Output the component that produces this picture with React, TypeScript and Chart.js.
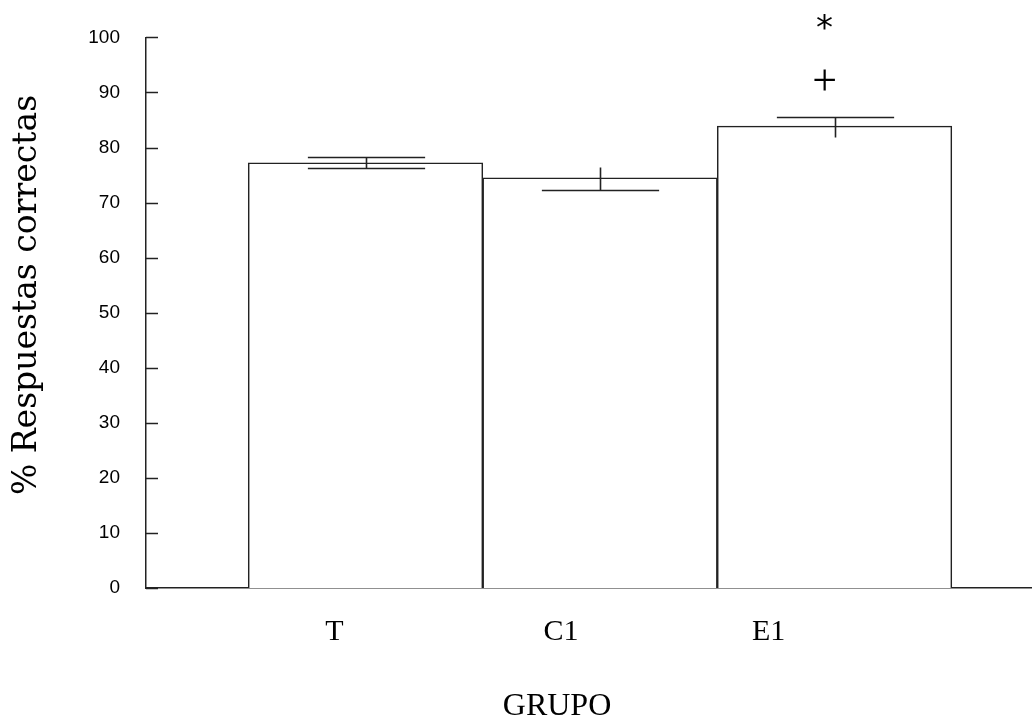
import React, { useEffect, useRef } from 'react';
import { Chart, registerables } from 'chart.js';

Chart.register(...registerables);

// ---- data ----
const categories = ['T', 'C1', 'E1'];
const means = [77.2, 74.5, 83.9];
const errUpper = [78.3, 76.5, 85.5];
const errLower = [76.3, 72.2, 81.9];
const capUpper = [true, false, true];
const capLower = [true, true, false];
const yMin = 0;
const yMax = 100;
const yStep = 10;
const markerSymbols = ['+', '*'];
const markerCategory = [2, 2];
const markerValues = [92.3, 102.8];
const yTitle = '% Respuestas correctas';
const xTitle = 'GRUPO';

// ---- layout / style constants ----
const W = 1032;
const H = 720;
const AXIS_LEFT = 146;
const AXIS_BOTTOM_SPACE = 132;
const LABEL_SHIFT = [-31, -39, -66];
const MARKER_SHIFT = -10;
const INK = '#222';

const overlay = {
  id: 'overlay',
  afterDatasetsDraw(chart: any) {
    const { ctx, scales } = chart;
    const x = scales.x;
    const y = scales.y;
    const meta = chart.getDatasetMeta(0);
    ctx.save();

    // inward y ticks
    ctx.strokeStyle = INK;
    ctx.lineWidth = 1.5;
    y.ticks.forEach((t: any) => {
      const py = Math.round(y.getPixelForValue(t.value)) + 0.5;
      ctx.beginPath();
      ctx.moveTo(y.right, py);
      ctx.lineTo(y.right + 12, py);
      ctx.stroke();
    });

    // error bars
    ctx.lineWidth = 1.6;
    categories.forEach((_, i) => {
      const bar = meta.data[i];
      const px = Math.round(bar.x) + 0.5;
      const half = bar.width * 0.25;
      const yu = Math.round(y.getPixelForValue(errUpper[i])) + 0.5;
      const yl = Math.round(y.getPixelForValue(errLower[i])) + 0.5;
      ctx.beginPath();
      ctx.moveTo(px, yu);
      ctx.lineTo(px, yl);
      if (capUpper[i]) {
        ctx.moveTo(px - half, yu);
        ctx.lineTo(px + half, yu);
      }
      if (capLower[i]) {
        ctx.moveTo(px - half, yl);
        ctx.lineTo(px + half, yl);
      }
      ctx.stroke();
    });

    // category labels
    ctx.fillStyle = '#000';
    ctx.font = '30px "Liberation Serif", serif';
    ctx.textAlign = 'center';
    ctx.textBaseline = 'alphabetic';
    categories.forEach((c, i) => {
      const px = x.getPixelForValue(i + 1) + LABEL_SHIFT[i];
      ctx.fillText(c, px, y.bottom + 52);
    });

    // x title
    ctx.font = '32px "Liberation Serif", serif';
    ctx.fillText(xTitle, (x.left + x.right) / 2 - 32, y.bottom + 127);

    // y title
    ctx.save();
    ctx.translate(27, 295);
    ctx.rotate(-Math.PI / 2);
    ctx.font = '33px "DejaVu Serif", serif';
    ctx.textBaseline = 'middle';
    ctx.fillText(yTitle, 0, 0);
    ctx.restore();

    // significance markers
    markerSymbols.forEach((s, k) => {
      const px = x.getPixelForValue(markerCategory[k] + 1) + MARKER_SHIFT;
      const py = y.getPixelForValue(markerValues[k]);
      ctx.font = s === '+' ? '44px "Liberation Serif", serif' : '34px "DejaVu Sans", sans-serif';
      const m = ctx.measureText(s);
      const dy = (m.actualBoundingBoxAscent - m.actualBoundingBoxDescent) / 2;
      ctx.textBaseline = 'alphabetic';
      ctx.fillText(s, px, py + dy);
    });

    ctx.restore();
  },
};

export default function App() {
  const ref = useRef<HTMLCanvasElement | null>(null);

  useEffect(() => {
    if (!ref.current) return;
    const chart = new Chart(ref.current, {
      type: 'bar',
      data: {
        datasets: [
          {
            data: means.map((v, i) => ({ x: i + 1, y: v })),
            backgroundColor: '#ffffff',
            borderColor: INK,
            borderWidth: 1.5,
            barPercentage: 1,
            categoryPercentage: 1,
          },
        ],
      },
      options: {
        responsive: false,
        animation: false,
        layout: { padding: { top: 32, right: 0, bottom: 0, left: 0 } },
        plugins: { legend: { display: false }, tooltip: { enabled: false } },
        scales: {
          x: {
            type: 'linear',
            offset: false,
            min: 1 - 0.936,
            max: 3 + 0.842,
            grid: { display: false, offset: false },
            border: { display: true, color: INK, width: 1.5 },
            ticks: { display: false },
            afterBuildTicks: (s: any) => {
              s.ticks = categories.map((_, i) => ({ value: i + 1 }));
            },
            afterFit: (s: any) => {
              s.height = AXIS_BOTTOM_SPACE;
            },
          },
          y: {
            min: yMin,
            max: yMax,
            grid: { display: false, drawTicks: false },
            border: { display: true, color: INK, width: 1.5 },
            ticks: {
              stepSize: yStep,
              padding: 26,
              color: '#000',
              font: { family: '"Liberation Sans", sans-serif', size: 19 },
            },
            afterFit: (s: any) => {
              s.width = AXIS_LEFT;
            },
          },
        },
      },
      plugins: [overlay],
    });
    return () => chart.destroy();
  }, []);

  return (
    <div style={{ position: 'absolute', left: 0, top: 0, width: W, height: H, background: '#fff' }}>
      <canvas ref={ref} width={W} height={H} style={{ display: 'block' }} />
    </div>
  );
}
